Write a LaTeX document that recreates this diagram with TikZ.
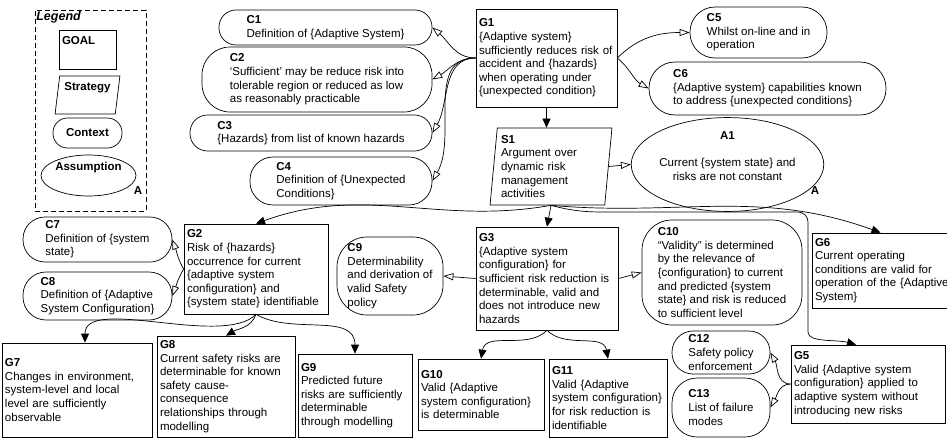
\documentclass[tikz,border=0pt]{standalone}
\usepackage{fontspec}
\setmainfont{Liberation Sans}
\usetikzlibrary{arrows.meta,shapes.geometric}

\begin{document}
\begin{tikzpicture}[x=1pt,y=-1pt,line width=0.7pt,
	font=\fontsize{11.5}{13.6}\selectfont,
	goal/.style={draw, rectangle, align=left, inner xsep=3pt, inner ysep=2pt},
	ctx/.style={draw, rectangle, rounded corners=#1, align=left, inner sep=2pt},
	strat/.style={draw, trapezium, trapezium stretches=true, align=left, inner sep=2pt},
	assum/.style={draw, ellipse, align=center, inner sep=0pt},
	tag/.style={inner sep=1pt, font=\fontsize{11.5}{13.6}\selectfont\bfseries},
	solved/.style={-{Triangle[length=9pt,width=8pt]}},
	incontext/.style={-{Triangle[open,length=10pt,width=7pt]}}]
	\useasboundingbox (0,0) rectangle (947,439);

	\node[draw, dashed, dash pattern=on 5pt off 3pt, minimum width=111pt, minimum height=201pt] (legend) at (90.5,110.5) {};
	\node[anchor=north west, inner sep=1pt, font=\fontsize{12.5}{14}\selectfont\bfseries\itshape] (legtitle) at (35,10) {Legend};
	\node[goal, text width=51pt, minimum height=39pt] (lgoal) at (87.5,49.5) {\textbf{GOAL}\\ \strut};
	\node[strat, trapezium left angle=82, trapezium right angle=98, minimum width=65pt, minimum height=38pt] (lstrat) at (87.5,95) {\textbf{Strategy}\\ \strut};
	\node[ctx=14.5pt, minimum width=69pt, minimum height=30pt] (lctx) at (87.5,133) {\textbf{Context}};
	\node[assum, minimum width=95pt, minimum height=41pt] (lassum) at (88.5,175.5) {\textbf{Assumption}\\ \strut};
	\node[tag] (lassumtag) at (138,191) {A};

	\node[goal, text width=135pt, minimum height=98pt] (G1) at (546.5,58) {\textbf{G1}\\ \{Adaptive system\}\\ sufficiently reduces risk of\\ accident and \{hazards\}\\ when operating under\\ \{unexpected condition\}};
	\node[strat, trapezium left angle=84, trapezium right angle=96, minimum width=122pt, minimum height=77pt, text width=100pt] (S1) at (551,166.5) {\textbf{S1}\\ Argument over\\ dynamic risk\\ management\\ activities};
	\node[assum, minimum width=171pt, minimum height=75pt] (A1) at (727.5,164.5) {\textbf{A1}\\[13.6pt] Current \{system state\} and\\ risks are not constant\\ \strut};
	\node[tag] (A1tag) at (815,191) {A};

	\node[ctx=17pt, minimum width=213pt, minimum height=35pt] (C1) at (325.5,27.5) {\textbf{C1}\\ Definition of \{Adaptive System\}};
	\node[ctx=28pt, minimum width=230pt, minimum height=65pt] (C2) at (317,79.5) {\textbf{C2}\\ ‘Sufficient’ may be reduce risk into\\ tolerable region or reduced as low\\ as reasonably practicable};
	\node[ctx=17.5pt, minimum width=242pt, minimum height=36pt] (C3) at (311,133) {\textbf{C3}\\ \{Hazards\} from list of known hazards};
	\node[ctx=23pt, minimum width=182pt, minimum height=48pt] (C4) at (341,181) {\textbf{C4}\\ Definition of \{Unexpected\\ Conditions\}};
	\node[ctx=25pt, minimum width=137pt, minimum height=51pt] (C5) at (758.5,32.5) {\textbf{C5}\\ Whilst on-line and in\\ operation};
	\node[ctx=26pt, minimum width=237pt, minimum height=53pt] (C6) at (767.5,88.5) {\textbf{C6}\\ \{Adaptive system\} capabilities known\\ to address \{unexpected conditions\}};

	\node[goal, text width=138pt, minimum height=90pt] (G2) at (256,269) {\textbf{G2}\\ Risk of \{hazards\}\\ occurrence for current\\ \{adaptive system\\ configuration\} and\\ \{system state\} identifiable};
	\node[ctx=22pt, minimum width=149pt, minimum height=45pt] (C7) at (97.5,239.5) {\textbf{C7}\\ Definition of \{system\\ state\}};
	\node[ctx=23pt, minimum width=149pt, minimum height=48pt] (C8) at (97.5,296) {\textbf{C8}\\ Definition of \{Adaptive\\ System Configuration\}};
	\node[ctx=30pt, minimum width=106pt, minimum height=78pt] (C9) at (390,276) {\textbf{C9}\\ Determinability\\ and derivation of\\ valid Safety\\ policy};
	\node[goal, text width=136pt, minimum height=103pt] (G3) at (547,278.5) {\textbf{G3}\\ \{Adaptive system\\ configuration\} for\\ sufficient risk reduction is\\ determinable, valid and\\ does not introduce new\\ hazards};
	\node[ctx=30pt, minimum width=160pt, minimum height=105pt] (C10) at (722,272.5) {\textbf{C10}\\ “Validity” is determined\\ by the relevance of\\ \{configuration\} to current\\ and predicted \{system\\ state\} and risk is reduced\\ to sufficient level};
	\node[goal, text width=139pt, minimum height=75pt] (G6) at (884.5,270.5) {\textbf{G6}\\ Current operating\\ conditions are valid for\\ operation of the \{Adaptive\\ System\}};

	\node[goal, text width=144pt, minimum height=94pt] (G7) at (77,390) {\textbf{G7}\\ Changes in environment,\\ system-level and local\\ level are sufficiently\\ observable};
	\node[goal, text width=132pt, minimum height=101pt] (G8) at (226,386.5) {\textbf{G8}\\ Current safety risks are\\ determinable for known\\ safety cause-\\ consequence\\ relationships through\\ modelling};
	\node[goal, text width=108pt, minimum height=83pt] (G9) at (355,395.5) {\textbf{G9}\\ Predicted future\\ risks are sufficiently\\ determinable\\ through modelling};
	\node[goal, text width=120pt, minimum height=71pt] (G10) at (481,394.5) {\textbf{G10}\\ Valid \{Adaptive\\ system configuration\}\\ is determinable};
	\node[goal, text width=112pt, minimum height=78pt] (G11) at (608,398) {\textbf{G11}\\ Valid \{Adaptive\\ system configuration\}\\ for risk reduction is\\ identifiable};
	\node[ctx=21pt, minimum width=98pt, minimum height=43pt] (C12) at (721,352.5) {\textbf{C12}\\ Safety policy\\ enforcement};
	\node[ctx=25pt, minimum width=98pt, minimum height=59pt] (C13) at (721,407.5) {\textbf{C13}\\ List of failure\\ modes};
	\node[goal, text width=148pt, minimum height=78pt] (G5) at (868,384) {\textbf{G5}\\ Valid \{Adaptive system\\ configuration\} applied to\\ adaptive system without\\ introducing new risks};

	\draw[solved] (G1.south) -- (G1.south |- S1.north);
	\draw[incontext] (G1.west) to[out=180,in=-40] (C1.east);
	\draw[incontext] (G1.west) to[out=180,in=30] (C2.east);
	\draw[incontext] (G1.west) to[out=180,in=60] (C3.east);
	\draw[incontext] (G1.west) to[out=180,in=60] (C4.east);
	\draw[incontext] (G1.east) to[out=45,in=180] (C5.west);
	\draw[incontext] (G1.east) to[out=-40,in=150] (C6.west);

	\draw[incontext] (S1.east) -- (A1.west);
	\draw[solved] (S1.south) to[out=190,in=20] (G2.north);
	\draw[solved] (S1.south) -- (G3.north);
	\draw[solved] (S1.south) to[out=-5,in=160] ([xshift=-4pt]G6.north);
	\draw[solved, rounded corners=10pt] (S1.south) to[out=-15,in=180] (620,212) -- (808,212) -- (808,322) to[out=-90,in=165] ([xshift=-12pt]G5.north);

	\draw[incontext] (G2.west) to[out=120,in=-70] (C7.east);
	\draw[incontext] (G2.west) to[out=-120,in=70] (C8.east);
	\draw[solved] (G2.south) to[out=-135,in=90,looseness=0.7] ([xshift=8pt]G7.north);
	\draw[solved] (G2.south) to[out=-110,in=30] (G8.north);
	\draw[solved] (G2.south) to[out=-30,in=90] (G9.north);

	\draw[incontext] (G3.west) -- (C9.east);
	\draw[incontext] (G3.east) -- (C10.west);
	\draw[solved] (G3.south) to[out=-135,in=80] (G10.north);
	\draw[solved] (G3.south) to[out=-45,in=100] (G11.north);

	\draw[incontext] (G5.west) to[out=180,in=-60] (C12.east);
	\draw[incontext] (G5.west) to[out=180,in=60] (C13.east);
\end{tikzpicture}
\end{document}
